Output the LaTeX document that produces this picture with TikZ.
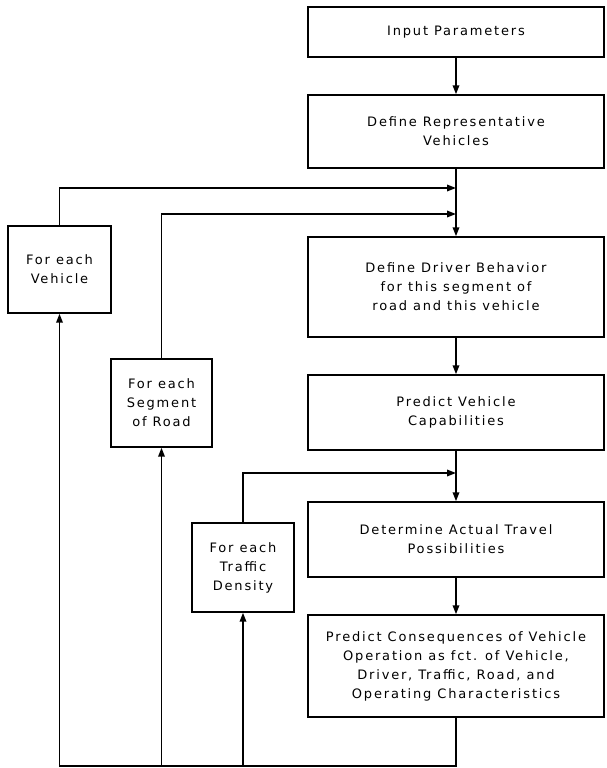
\documentclass[tikz,border=0pt]{standalone}
\usepackage{fontspec}
\setmainfont{DejaVu Sans}[LetterSpace=14]
\usetikzlibrary{positioning,arrows.meta}

\begin{document}
\begin{tikzpicture}[x=1pt,y=-1pt,
    every node/.style={font=\fontsize{13}{19}\selectfont},
    box/.style={draw, line width=1.4pt, minimum width=296pt, align=center, inner sep=0pt},
    loopbox/.style={draw, line width=1.4pt, align=center, inner sep=0pt},
    flow/.style={line width=1.7pt, -{Triangle[length=9pt,width=6.5pt]}}]
    \useasboundingbox (0,0) rectangle (606,768);

    % Main column
    \node[box, minimum height=50pt] (inp) at (456,32) {Input Parameters};
    \node[box, minimum height=73pt] (rep) at (456,131.5) {Define Representative\\Vehicles};
    \node[box, minimum height=100pt] (drv) at (456,287) {Define Driver Behavior\\for this segment of\\road and this vehicle};
    \node[box, minimum height=75pt] (cap) at (456,412.5) {Predict Vehicle\\Capabilities};
    \node[box, minimum height=75pt] (trv) at (456,539.5) {Determine Actual Travel\\Possibilities};
    \node[box, minimum height=102pt] (cons) at (456,666) {Predict Consequences of Vehicle\\Operation as fct. of Vehicle,\\Driver, Traffic, Road, and\\Operating Characteristics};

    % Loop boxes
    \node[loopbox, minimum width=103pt, minimum height=87pt] (veh) at (59.5,269.5) {For each\\Vehicle};
    \node[loopbox, minimum width=101pt, minimum height=88pt] (seg) at (161.5,403) {For each\\Segment\\of Road};
    \node[loopbox, minimum width=102pt, minimum height=89pt] (den) at (243,567.5) {For each\\Traffic\\Density};

    % Junctions on the main line
    \coordinate (j1) at (456,188);
    \coordinate (j2) at (456,214);
    \coordinate (j3) at (456,473);
    \coordinate (bot) at (456,766);

    % Forward flow
    \draw[flow] (inp) -- (rep);
    \draw[flow] (rep) -- (drv);
    \draw[flow] (drv) -- (cap);
    \draw[flow] (cap) -- (trv);
    \draw[flow] (trv) -- (cons);

    % Loops back
    \draw[flow] (cons.south) -- (bot) -| (veh.south);
    \draw[flow] (seg.south |- bot) -- (seg.south);
    \draw[flow] (den.south |- bot) -- (den.south);
    \draw[flow] (veh.north) |- (j1);
    \draw[flow] (seg.north) |- (j2);
    \draw[flow] (den.north) |- (j3);
\end{tikzpicture}
\end{document}
